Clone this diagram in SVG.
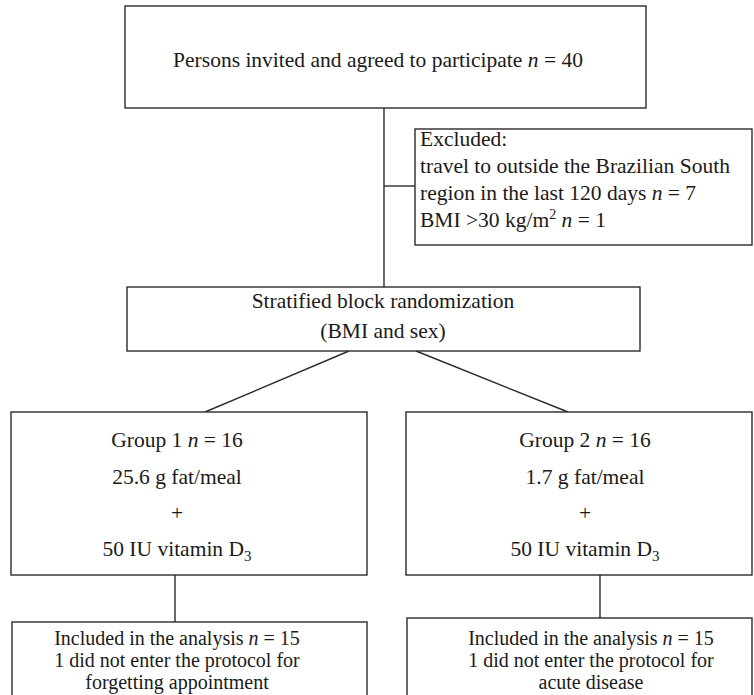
<svg xmlns="http://www.w3.org/2000/svg" width="754" height="695" viewBox="0 0 754 695">
<style>
rect{fill:#fff;stroke:#2b2b2b;stroke-width:1.4}
line{stroke:#2b2b2b;stroke-width:1.4}
text{font-family:"Liberation Serif","Times New Roman",serif;font-size:21.5px;fill:#1a1a1a}
.c{text-anchor:middle}
.i{font-style:italic}
.s{font-size:20px}
</style>
<rect width="754" height="695" style="fill:#fff;stroke:none"/>
<g id="connectors">
<line x1="384" y1="108" x2="384" y2="287"/>
<line x1="384" y1="186" x2="415" y2="186"/>
<line x1="349" y1="351" x2="205" y2="412"/>
<line x1="416" y1="351" x2="568" y2="412"/>
<line x1="175" y1="575" x2="175" y2="622"/>
<line x1="600" y1="575" x2="600" y2="618"/>
</g>
<g id="enrolled">
<rect x="125" y="6" width="521" height="102"/>
<text class="c" x="378" y="67">Persons invited and agreed to participate <tspan class="i">n</tspan> = 40</text>
</g>
<g id="excluded">
<rect x="415" y="129" width="337" height="116"/>
<text x="420" y="146">Excluded:</text>
<text x="420" y="173">travel to outside the Brazilian South</text>
<text x="420" y="200">region in the last 120 days <tspan class="i">n</tspan> = 7</text>
<text x="420" y="227">BMI &gt;30 kg/m<tspan dy="-8" font-size="14">2</tspan><tspan dy="8"> </tspan><tspan class="i">n</tspan> = 1</text>
</g>
<g id="randomization">
<rect x="127" y="287" width="513" height="64"/>
<text class="c" x="383" y="308">Stratified block randomization</text>
<text class="c" x="383" y="338">(BMI and sex)</text>
</g>
<g id="group1">
<rect x="11" y="412" width="356" height="163"/>
<text class="c" x="177" y="447">Group 1 <tspan class="i">n</tspan> = 16</text>
<text class="c" x="177" y="484">25.6 g fat/meal</text>
<text class="c" x="177" y="520">+</text>
<text class="c" x="177" y="556">50 IU vitamin D<tspan dy="5" font-size="15">3</tspan></text>
</g>
<g id="group2">
<rect x="406" y="412" width="346" height="163"/>
<text class="c" x="585" y="447">Group 2 <tspan class="i">n</tspan> = 16</text>
<text class="c" x="585" y="484">1.7 g fat/meal</text>
<text class="c" x="585" y="520">+</text>
<text class="c" x="585" y="556">50 IU vitamin D<tspan dy="5" font-size="15">3</tspan></text>
</g>
<g id="analysis1">
<rect x="12" y="622" width="355" height="80"/>
<text class="c s" x="177" y="645">Included in the analysis <tspan class="i">n</tspan> = 15</text>
<text class="c s" x="177" y="667">1 did not enter the protocol for</text>
<text class="c s" x="177" y="689">forgetting appointment</text>
</g>
<g id="analysis2">
<rect x="407" y="618" width="345" height="84"/>
<text class="c s" x="591" y="645">Included in the analysis <tspan class="i">n</tspan> = 15</text>
<text class="c s" x="591" y="667">1 did not enter the protocol for</text>
<text class="c s" x="591" y="689">acute disease</text>
</g>
</svg>
